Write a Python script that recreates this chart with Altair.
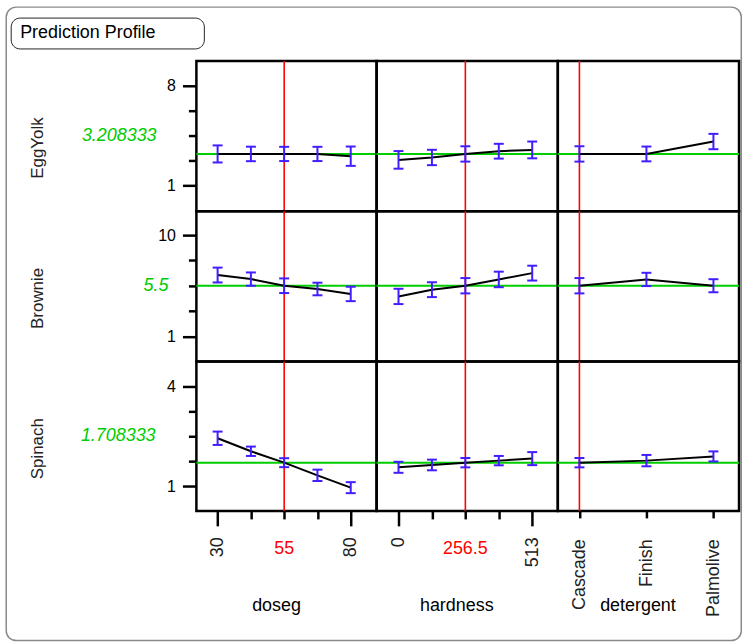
import altair as alt
import pandas as pd

FONT = "Liberation Sans"
GREEN = "#00CC00"
RED = "#FF0000"
BLUE = "#3F1FFF"

# ---------------- data ----------------
responses = ["EggYolk", "Brownie", "Spinach"]
predicted = [3.208333, 5.5, 1.708333]
predicted_labels = ["3.208333", "5.5", "1.708333"]

factors = ["doseg", "hardness", "detergent"]
doseg_levels = [30, 42.5, 55, 67.5, 80]
hardness_levels = [0, 128.25, 256.5, 384.75, 513]
detergent_levels = ["Cascade", "Finish", "Palmolive"]
current_settings = [55, 256.5, "Cascade"]
current_labels = ["55", "256.5", "Cascade"]

# predicted response and half-width of the confidence bar at each level
eggyolk_doseg = [3.208333, 3.208333, 3.208333, 3.208333, 3.05]
eggyolk_doseg_hw = [0.60, 0.51, 0.50, 0.50, 0.68]
eggyolk_hardness = [2.79, 2.96, 3.208333, 3.40, 3.49]
eggyolk_hardness_hw = [0.62, 0.54, 0.54, 0.52, 0.59]
eggyolk_detergent = [3.208333, 3.208333, 4.08]
eggyolk_detergent_hw = [0.54, 0.52, 0.54]

brownie_doseg = [6.45, 6.09, 5.5, 5.21, 4.77]
brownie_doseg_hw = [0.66, 0.59, 0.65, 0.56, 0.64]
brownie_hardness = [4.55, 5.15, 5.5, 6.06, 6.62]
brownie_hardness_hw = [0.68, 0.66, 0.68, 0.69, 0.66]
brownie_detergent = [5.5, 6.06, 5.5]
brownie_detergent_hw = [0.68, 0.59, 0.58]

spinach_doseg = [2.44, 2.05, 1.708333, 1.33, 0.96]
spinach_doseg_hw = [0.20, 0.14, 0.134, 0.17, 0.165]
spinach_hardness = [1.57, 1.64, 1.708333, 1.77, 1.83]
spinach_hardness_hw = [0.165, 0.16, 0.14, 0.14, 0.195]
spinach_detergent = [1.708333, 1.77, 1.896]
spinach_detergent_hw = [0.14, 0.17, 0.15]

# axis settings
y_domains = [[-0.82, 9.75], [-1.24, 12.12], [0.263, 4.737]]
y_major_ticks = [[1, 8], [1, 10], [1, 4]]
y_minor_ticks = [[2.75, 4.5, 6.25], [3.25, 5.5, 7.75], [1.75, 2.5, 3.25]]
x_domains = [[22.03, 89.72], [-84.0, 611.2]]
x_major_ticks = [[30, 80], [0, 513]]
x_minor_ticks = [[42.5, 55, 67.5], [128.25, 256.5, 384.75]]

levels = [doseg_levels, hardness_levels, detergent_levels]
series = [
    [(eggyolk_doseg, eggyolk_doseg_hw), (eggyolk_hardness, eggyolk_hardness_hw), (eggyolk_detergent, eggyolk_detergent_hw)],
    [(brownie_doseg, brownie_doseg_hw), (brownie_hardness, brownie_hardness_hw), (brownie_detergent, brownie_detergent_hw)],
    [(spinach_doseg, spinach_doseg_hw), (spinach_hardness, spinach_hardness_hw), (spinach_detergent, spinach_detergent_hw)],
]

# ---------------- layout ----------------
panel_widths = [181, 182, 182]
panel_heights = [151, 151, 150]
green_label_x = [-40, -28, -41]


def x_enc(c, field="x", axis=None):
    if c < 2:
        return alt.X(f"{field}:Q", scale=alt.Scale(domain=x_domains[c], nice=False, zero=False), axis=axis)
    return alt.X(f"{field}:N", sort=detergent_levels,
                 scale=alt.Scale(type="point", domain=detergent_levels, range=[21.7, 156.3], padding=0),
                 axis=axis)


def y_enc(r, field, axis=None):
    return alt.Y(f"{field}:Q", scale=alt.Scale(domain=y_domains[r], nice=False, zero=False), axis=axis)


def y_major_axis(r):
    return alt.Axis(values=y_major_ticks[r], orient="left", title=responses[r], titleX=-160, titleY=87,
                    titleAngle=270, titleAlign="center", titleBaseline="middle", titleFontSize=17,
                    titleFontWeight="normal", titleColor="#222222", tickSize=14, tickWidth=2.5,
                    tickColor="black", labelFontSize=16, labelPadding=7, labelColor="black",
                    domain=False, grid=False)


def y_minor_axis(r):
    return alt.Axis(values=y_minor_ticks[r], orient="left", title=None, labels=False, tickSize=8,
                    tickWidth=2.5, tickColor="black", domain=False, grid=False)


def x_major_axis(c):
    kw = dict(orient="bottom", title=factors[c], titleX=80, titleY=95, titleAlign="center",
              titleBaseline="middle", titleFontSize=18, titleFontWeight="normal", titleColor="black",
              tickWidth=2.5, tickColor="black", labelAngle=270, labelFontSize=18, labelColor="#222222",
              labelOverlap=False, domain=False, grid=False)
    if c < 2:
        kw.update(values=x_major_ticks[c], tickSize=15, labelPadding=11)
    else:
        kw.update(tickSize=7, labelPadding=21)
    return alt.Axis(**kw)


def x_minor_axis(c):
    return alt.Axis(values=x_minor_ticks[c], orient="bottom", title=None, labels=False, tickSize=8,
                    tickWidth=2.5, tickColor="black", domain=False, grid=False)


def panel(r, c):
    ys, hw = series[r][c]
    df = pd.DataFrame({
        "x": levels[c],
        "y": ys,
        "lo": [a - b for a, b in zip(ys, hw)],
        "hi": [a + b for a, b in zip(ys, hw)],
    })
    left = c == 0
    bottom = r == 2
    w, h = panel_widths[c], panel_heights[r]

    green = alt.Chart(pd.DataFrame({"p": [predicted[r]]})).mark_rule(color=GREEN, strokeWidth=2).encode(
        y=y_enc(r, "p", y_major_axis(r) if left else None))
    red = alt.Chart(pd.DataFrame({"x": [current_settings[c]]})).mark_rule(color=RED, strokeWidth=1.6).encode(
        x=x_enc(c, "x", x_major_axis(c) if bottom else None))
    base = alt.Chart(df)
    line = base.mark_line(color="black", strokeWidth=2).encode(
        x=x_enc(c, "x", x_minor_axis(c) if (bottom and c < 2) else None),
        y=y_enc(r, "y"))
    bars = base.mark_rule(color=BLUE, strokeWidth=2).encode(
        x=x_enc(c), y=y_enc(r, "lo", y_minor_axis(r) if left else None), y2="hi:Q")
    cap_lo = base.mark_tick(orient="horizontal", size=10, thickness=2, color=BLUE, opacity=1).encode(
        x=x_enc(c), y=y_enc(r, "lo"))
    cap_hi = base.mark_tick(orient="horizontal", size=10, thickness=2, color=BLUE, opacity=1).encode(
        x=x_enc(c), y=y_enc(r, "hi"))
    layers = [green, red, line, bars, cap_lo, cap_hi]

    if left:
        layers.append(
            alt.Chart(pd.DataFrame({"t": [predicted_labels[r]]})).mark_text(
                align="right", baseline="middle", fontSize=18, fontStyle="italic", color=GREEN
            ).encode(x=alt.value(green_label_x[r]), y=alt.value(h / 2), text="t:N"))
    if bottom and c < 2:
        layers.append(
            alt.Chart(pd.DataFrame({"x": [current_settings[c]], "t": [current_labels[c]]})).mark_text(
                baseline="middle", fontSize=18, color=RED
            ).encode(x=x_enc(c), y=alt.value(h + 38), text="t:N"))
    if r == 0 and c == 0:
        deco = alt.Chart(pd.DataFrame({"t": ["Prediction Profile"]}))
        layers.append(deco.mark_rect(fillOpacity=0, stroke="#8a8a8a", strokeWidth=1.5, cornerRadius=10).encode(
            x=alt.value(-191), x2=alt.value(547.25), y=alt.value(-54), y2=alt.value(582.25)))
        layers.append(deco.mark_rect(fill="white", stroke="#222222", strokeWidth=1, cornerRadius=9).encode(
            x=alt.value(-186), x2=alt.value(8), y=alt.value(-43), y2=alt.value(-12)))
        layers.append(deco.mark_text(align="left", baseline="middle", fontSize=18, color="black").encode(
            x=alt.value(-177), y=alt.value(-27.5), text="t:N"))

    return alt.layer(*layers).properties(width=w, height=h).resolve_axis(x="independent", y="independent")


panels = [panel(r, c) for r in range(3) for c in range(3)]

chart = alt.concat(*panels, columns=3, spacing=0, bounds="flush", align="each").properties(
    padding={"left": 4.25, "top": 3.75, "right": 0, "bottom": 0},
    background="white",
).configure(font=FONT).configure_view(stroke="black", strokeWidth=2.5)

chart.save("out.html", embed_options={"renderer": "svg", "actions": False})
